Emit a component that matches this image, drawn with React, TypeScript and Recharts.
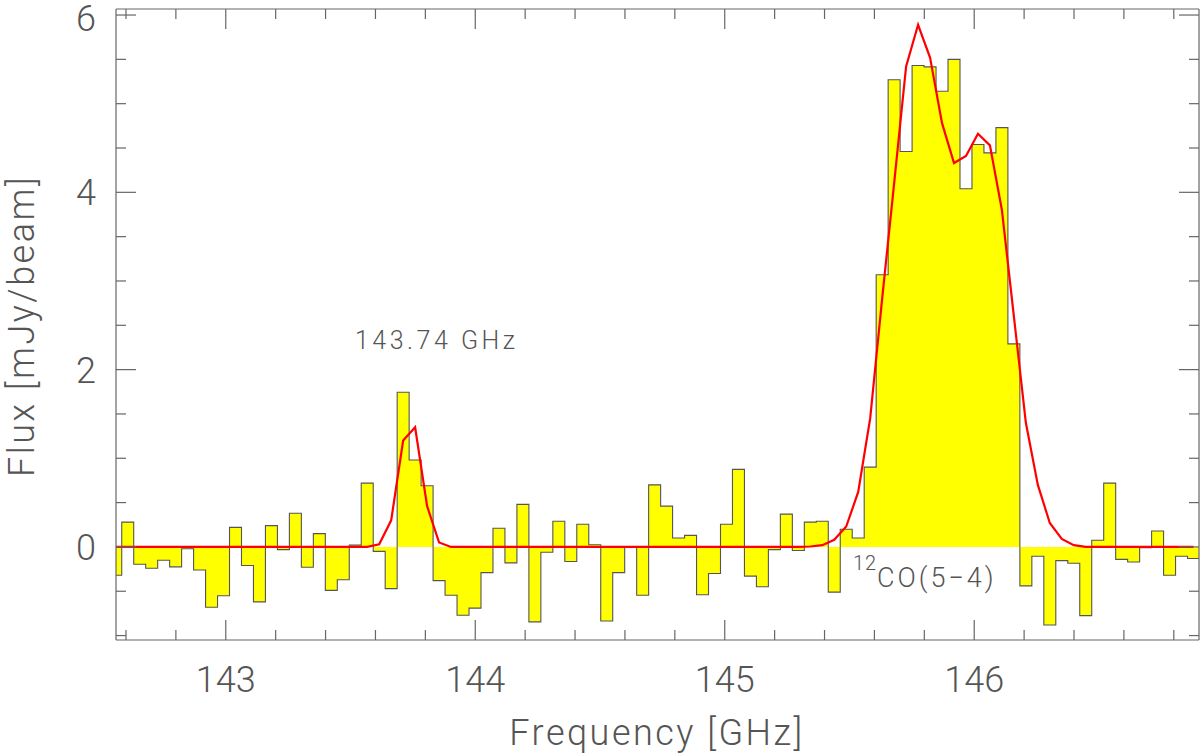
import React from 'react';
import { ComposedChart, Area, Line, XAxis, YAxis } from 'recharts';

// channel centre frequencies [GHz]
const channelFreq = [
  142.559, 142.607, 142.655, 142.703, 142.751, 142.799, 142.847, 142.895, 142.943, 142.991,
  143.039, 143.087, 143.135, 143.183, 143.231, 143.279, 143.327, 143.375, 143.423, 143.471,
  143.519, 143.567, 143.615, 143.663, 143.711, 143.759, 143.807, 143.855, 143.903, 143.951,
  143.999, 144.047, 144.095, 144.143, 144.191, 144.239, 144.287, 144.335, 144.383, 144.431,
  144.479, 144.527, 144.575, 144.623, 144.671, 144.719, 144.767, 144.815, 144.863, 144.911,
  144.959, 145.007, 145.055, 145.103, 145.151, 145.199, 145.247, 145.295, 145.343, 145.391,
  145.439, 145.487, 145.535, 145.583, 145.631, 145.679, 145.727, 145.775, 145.823, 145.871,
  145.919, 145.967, 146.015, 146.063, 146.111, 146.159, 146.207, 146.255, 146.303, 146.351,
  146.399, 146.447, 146.495, 146.543, 146.591, 146.639, 146.687, 146.735, 146.783, 146.831,
  146.879,
];

// observed flux per channel [mJy/beam]
const flux = [
  -0.32, 0.28, -0.195, -0.24, -0.15, -0.225, -0.02, -0.26, -0.68, -0.55,
  0.22, -0.21, -0.62, 0.24, -0.03, 0.38, -0.23, 0.15, -0.49, -0.37,
  0.02, 0.72, -0.05, -0.47, 1.745, 0.98, 0.69, -0.38, -0.545, -0.77,
  -0.69, -0.29, 0.21, -0.18, 0.48, -0.845, -0.06, 0.29, -0.165, 0.255,
  0.025, -0.835, -0.29, 0.0, -0.545, 0.7, 0.46, 0.1, 0.13, -0.54,
  -0.3, 0.255, 0.875, -0.33, -0.45, -0.03, 0.37, -0.04, 0.28, 0.29,
  -0.51, 0.2, 0.1, 0.9, 3.07, 5.27, 4.46, 5.43, 5.415, 5.14,
  5.5, 4.04, 4.54, 4.445, 4.73, 2.29, -0.44, -0.105, -0.88, -0.155,
  -0.185, -0.775, 0.075, 0.72, -0.14, -0.17, -0.01, 0.18, -0.32, -0.105,
  -0.13,
];

// fitted model at channel centres
const model = [
  0, 0, 0, 0, 0, 0, 0, 0, 0, 0,
  0, 0, 0, 0, 0, 0, 0, 0, 0, 0,
  0, 0, 0.03, 0.3, 1.2, 1.35, 0.46, 0.05, 0, 0,
  0, 0, 0, 0, 0, 0, 0, 0, 0, 0,
  0, 0, 0, 0, 0, 0, 0, 0, 0, 0,
  0, 0, 0, 0, 0, 0, 0, 0, 0.005, 0.02,
  0.08, 0.23, 0.62, 1.45, 2.8, 4.1, 5.42, 5.89, 5.52, 4.78,
  4.33, 4.41, 4.66, 4.53, 3.8, 2.6, 1.4, 0.7, 0.27, 0.09,
  0.02, 0, 0, 0, 0, 0, 0, 0, 0, 0,
  0,
];

const xTicks = [
  142.6, 142.8, 143, 143.2, 143.4, 143.6, 143.8, 144, 144.2, 144.4, 144.6, 144.8,
  145, 145.2, 145.4, 145.6, 145.8, 146, 146.2, 146.4, 146.6, 146.8,
];
const xLabels = [143, 144, 145, 146];
const yTicks = [-1, -0.5, 0, 0.5, 1, 1.5, 2, 2.5, 3, 3.5, 4, 4.5, 5, 5.5, 6];
const yLabels = [0, 2, 4, 6];

const CHANNEL_WIDTH = 0.048;

const AXIS = '#666';
const TEXT = '#555';
const FONT = 'Roboto, "DejaVu Sans", sans-serif';

const labelStyle = { fontFamily: FONT, fontWeight: 300, fill: TEXT } as const;

function BottomTick(props: any) {
  const { x, y, payload } = props;
  const major = xLabels.includes(payload.value);
  return (
    <g>
      <line x1={x} y1={y} x2={x} y2={y - (major ? 20 : 10)} stroke={AXIS} strokeWidth={1.2} />
      {major && (
        <text x={x} y={y + 52} textAnchor="middle" fontSize={36} {...labelStyle}>
          {payload.value}
        </text>
      )}
    </g>
  );
}

function TopTick(props: any) {
  const { x, y, payload } = props;
  const major = xLabels.includes(payload.value);
  return <line x1={x} y1={y} x2={x} y2={y + (major ? 20 : 10)} stroke={AXIS} strokeWidth={1.2} />;
}

function LeftTick(props: any) {
  const { x, y, payload } = props;
  const major = yLabels.includes(payload.value);
  // keep the top label ("6") inside the page
  const ty = Math.max(y + 13, 31);
  return (
    <g>
      <line x1={x} y1={y} x2={x + (major ? 20 : 10)} y2={y} stroke={AXIS} strokeWidth={1.2} />
      {major && (
        <text x={x - 30} y={ty} textAnchor="middle" fontSize={36} {...labelStyle}>
          {payload.value}
        </text>
      )}
    </g>
  );
}

function RightTick(props: any) {
  const { x, y, payload } = props;
  const major = yLabels.includes(payload.value);
  return <line x1={x} y1={y} x2={x - (major ? 20 : 10)} y2={y} stroke={AXIS} strokeWidth={1.2} />;
}

export default function App() {
  const last = channelFreq.length - 1;
  // histogram steps: each channel starts at its lower edge, plus a closing edge
  const stepRows = [
    ...channelFreq.map((f, i) => ({ f: f - CHANNEL_WIDTH / 2, flux: flux[i] })),
    { f: channelFreq[last] + CHANNEL_WIDTH / 2, flux: flux[last] },
  ];
  const modelRows = channelFreq.map((f, i) => ({ f, model: model[i] }));

  const xDomain = [142.56, 146.901];
  const yDomain = [-1.05, 6.068];

  return (
    <div style={{ position: 'absolute', left: 0, top: 0, width: 1200, height: 753, background: '#fff' }}>
      <ComposedChart width={1200} height={753} margin={{ top: 8, right: 0, bottom: 112, left: 115 }}>
        <XAxis
          xAxisId="b"
          dataKey="f"
          type="number"
          domain={xDomain}
          allowDataOverflow
          ticks={xTicks}
          interval={0}
          height={1}
          tickSize={0}
          tickMargin={0}
          tickLine={false}
          axisLine={{ stroke: AXIS, strokeWidth: 1.2 }}
          tick={<BottomTick />}
        />
        <XAxis
          xAxisId="t"
          orientation="top"
          dataKey="f"
          type="number"
          domain={xDomain}
          allowDataOverflow
          ticks={xTicks}
          interval={0}
          height={1}
          tickSize={0}
          tickMargin={0}
          tickLine={false}
          axisLine={{ stroke: AXIS, strokeWidth: 1.2 }}
          tick={<TopTick />}
        />
        <YAxis
          yAxisId="l"
          type="number"
          domain={yDomain}
          allowDataOverflow
          ticks={yTicks}
          interval={0}
          width={1}
          tickSize={0}
          tickMargin={0}
          tickLine={false}
          axisLine={{ stroke: AXIS, strokeWidth: 1.2 }}
          tick={<LeftTick />}
        />
        <YAxis
          yAxisId="r"
          orientation="right"
          type="number"
          domain={yDomain}
          allowDataOverflow
          ticks={yTicks}
          interval={0}
          width={1}
          tickSize={0}
          tickMargin={0}
          tickLine={false}
          axisLine={{ stroke: AXIS, strokeWidth: 1.2 }}
          tick={<RightTick />}
        />
        <Area
          xAxisId="b"
          yAxisId="l"
          data={stepRows}
          dataKey="flux"
          type="stepAfter"
          baseValue={0}
          fill="#ffff00"
          fillOpacity={1}
          stroke="#555"
          strokeWidth={1.1}
          dot={false}
          activeDot={false}
          isAnimationActive={false}
        />
        <Line
          xAxisId="t"
          yAxisId="r"
          data={modelRows}
          dataKey="model"
          type="linear"
          stroke="#ff0000"
          strokeWidth={2.2}
          dot={false}
          activeDot={false}
          isAnimationActive={false}
        />
      </ComposedChart>
      <svg
        width={1200}
        height={753}
        style={{ position: 'absolute', left: 0, top: 0, pointerEvents: 'none' }}
      >
        <text x={657} y={745} textAnchor="middle" fontSize={36} letterSpacing={2.5} {...labelStyle}>
          Frequency [GHz]
        </text>
        <text
          transform="translate(34, 326) rotate(-90)"
          textAnchor="middle"
          fontSize={36}
          letterSpacing={2.5}
          {...labelStyle}
        >
          Flux [mJy/beam]
        </text>
        <text x={355} y={349} fontSize={25} letterSpacing={3.5} {...labelStyle}>
          143.74 GHz
        </text>
        <text x={853} y={570} fontSize={20} letterSpacing={1} {...labelStyle}>
          12
        </text>
        <text x={877} y={587} fontSize={27} letterSpacing={3} {...labelStyle}>
          CO(5−4)
        </text>
      </svg>
    </div>
  );
}
